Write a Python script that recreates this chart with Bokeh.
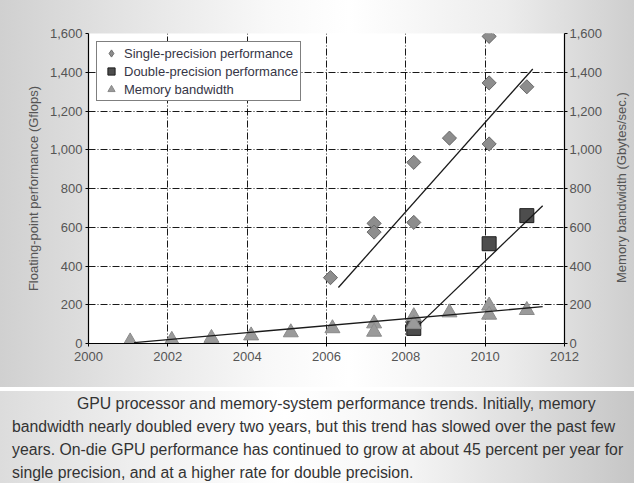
import math
from bokeh.plotting import figure
from bokeh.models import (Range1d, LinearAxis, NumeralTickFormatter, FixedTicker, Div,
                          Legend, LegendItem)
from bokeh.layouts import column, row
from bokeh.embed import file_html
from bokeh.resources import INLINE

# ---- data ----
sp_year = [2006.1, 2007.2, 2007.2, 2008.2, 2008.2, 2009.1, 2010.1, 2010.1, 2010.1, 2011.05]
sp_gflops = [340, 620, 575, 625, 935, 1060, 1585, 1345, 1030, 1325]

dp_year = [2008.2, 2010.1, 2011.05]
dp_gflops = [78, 515, 660]

mb_year = [2001.05, 2002.1, 2003.1, 2004.1, 2005.1, 2006.15, 2007.2, 2007.2,
           2008.2, 2008.2, 2009.1, 2010.1, 2010.1, 2011.05]
mb_gbs = [10, 18, 28, 41, 57, 78, 103, 60, 140, 100, 160, 195, 148, 172]

sp_trend_year = [2006.3, 2011.2]
sp_trend = [289, 1417]
dp_trend_year = [2008.35, 2011.45]
dp_trend = [100, 711]
mb_trend_year = [2001.15, 2011.45]
mb_trend = [5, 190]

x_ticks = [2000, 2002, 2004, 2006, 2008, 2010, 2012]
y_ticks = [0, 200, 400, 600, 800, 1000, 1200, 1400, 1600]

legend_labels = ["Single-precision performance", "Double-precision performance", "Memory bandwidth"]
left_label = "Floating-point performance (Gflops)"
right_label = "Memory bandwidth (Gbytes/sec.)"

caption_lines = [
    "GPU processor and memory-system performance trends. Initially, memory",
    "bandwidth nearly doubled every two years, but this trend has slowed over the past few",
    "years. On-die GPU performance has continued to grow at about 45 percent per year for",
    "single precision, and at a higher rate for double precision.",
]

FONT = "Liberation Sans"
W, H = 610, 387
BL, BR, BT, BB = 88, 46, 33, 44
LABEL_W = 24

p = figure(width=W, height=H, x_range=Range1d(2000, 2012), y_range=Range1d(0, 1600),
           output_backend="svg", toolbar_location=None,
           min_border_left=BL, min_border_right=BR, min_border_top=BT, min_border_bottom=BB)
p.border_fill_color = None
p.background_fill_color = "white"
p.outline_line_color = None

p.extra_y_ranges = {"right": Range1d(0, 1600)}
right_axis = LinearAxis(y_range_name="right")
p.add_layout(right_axis, "right")

p.xaxis.ticker = FixedTicker(ticks=x_ticks)
for ax in p.yaxis:
    ax.ticker = FixedTicker(ticks=y_ticks)
    ax.formatter = NumeralTickFormatter(format="0,0")

for ax in list(p.xaxis) + list(p.yaxis):
    ax.axis_line_color = "black"
    ax.axis_line_width = 1.2
    ax.major_tick_line_color = "black"
    ax.major_tick_in = 0
    ax.major_tick_out = 3
    ax.minor_tick_line_color = None
    ax.major_label_text_font = FONT
    ax.major_label_text_font_size = "13px"
    ax.major_label_text_color = "#555555"
    ax.axis_label_text_font = FONT
    ax.axis_label_text_font_size = "13px"
    ax.axis_label_text_font_style = "normal"
    ax.axis_label_text_color = "#555555"

p.xaxis.major_label_standoff = 5
p.yaxis[0].major_label_standoff = 3
right_axis.major_label_standoff = 2
p.yaxis[0].axis_label = left_label
p.yaxis[0].axis_label_standoff = 6

for g in (p.xgrid, p.ygrid):
    g.grid_line_color = "black"
    g.grid_line_dash = "7 2 1 2"
    g.grid_line_width = 1
    g.grid_line_alpha = 0.9
p.ygrid.ticker = FixedTicker(ticks=y_ticks)
p.xgrid.ticker = FixedTicker(ticks=x_ticks)

SP_FILL, SP_LINE = "#8d8d8d", "#6a6a6a"
DP_FILL, DP_LINE = "#4d4d4d", "#1e1e1e"
MB_FILL, MB_LINE = "#9a9a9a", "#8a8a8a"

# legend key for the diamonds (legend icons ignore marker rotation); hidden beneath the markers
r_sp_key = p.scatter(sp_year, sp_gflops, marker="diamond", size=13,
                     fill_color=SP_FILL, line_color=SP_LINE)
# markers
r_sp = p.scatter(sp_year, sp_gflops, marker="square", angle=math.pi / 4, size=10,
                 fill_color=SP_FILL, line_color=SP_LINE, line_width=1)
r_dp = p.scatter(dp_year, dp_gflops, marker="square", size=14,
                 fill_color=DP_FILL, line_color=DP_LINE, line_width=1)
r_mb = p.scatter(mb_year, mb_gbs, marker="triangle", size=15, y_range_name="right",
                 fill_color=MB_FILL, line_color=MB_LINE, line_width=1)

# trend lines
p.line(sp_trend_year, sp_trend, line_color="#1a1a1a", line_width=1.3)
p.line(dp_trend_year, dp_trend, line_color="#1a1a1a", line_width=1.3)
p.line(mb_trend_year, mb_trend, line_color="#1a1a1a", line_width=1.3, y_range_name="right")

lg = Legend(items=[LegendItem(label=legend_labels[0], renderers=[r_sp_key]),
                   LegendItem(label=legend_labels[1], renderers=[r_dp]),
                   LegendItem(label=legend_labels[2], renderers=[r_mb])])
lg.location = "top_left"
lg.margin = 8
lg.padding = 2
lg.spacing = 0
lg.glyph_width = 24
lg.glyph_height = 18
lg.label_height = 18
lg.label_standoff = 1
lg.label_text_font = FONT
lg.label_text_font_size = "13px"
lg.label_text_color = "#363646"
lg.border_line_color = "black"
lg.border_line_width = 1
lg.background_fill_color = "white"
lg.background_fill_alpha = 1
p.add_layout(lg, "center")

# right-hand axis title (reads bottom-to-top as in the reference)
right_title = Div(
    text=(
        f'<div style="width:{LABEL_W}px;height:{H}px;box-sizing:border-box;padding-top:{BT}px;'
        'display:flex;justify-content:center;">'
        f'<div style="writing-mode:vertical-rl;transform:rotate(180deg);height:{H - BT - BB}px;'
        'text-align:center;font-family:\'Liberation Sans\',Arial,sans-serif;font-size:13px;'
        f'color:#555555;white-space:nowrap;">{right_label}</div></div>'
    ),
    width=LABEL_W, height=H,
)
right_title.margin = (0, 0, 0, 0)

chart = row(p, right_title, spacing=0)
chart.styles = {"background": "linear-gradient(to right, #d0d0d0 0%, #e2e2e2 18%, #f8f8f8 42%, #ffffff 55%, #ececec 80%, #cecece 100%)"}

html_lines = "<br>".join(caption_lines)
caption = Div(
    text=(
        '<div style="width:634px;height:92px;box-sizing:border-box;padding-top:1px;padding-left:12px;'
        'font-family:\'Liberation Sans\',Arial,sans-serif;font-size:15.8px;line-height:23px;'
        'color:#333333;white-space:nowrap;text-indent:65px;'
        'background:linear-gradient(to right, #dcdcdc 0%, #f2f2f2 25%, #ffffff 45%, #f4f4f4 65%, #c6c6c6 100%);">'
        + html_lines + '</div>'
    ),
    width=634, height=92,
)
caption.margin = (4, 0, 0, 0)

layout = column(chart, caption, spacing=0)

open("out.html", "w").write(file_html(layout, INLINE))
